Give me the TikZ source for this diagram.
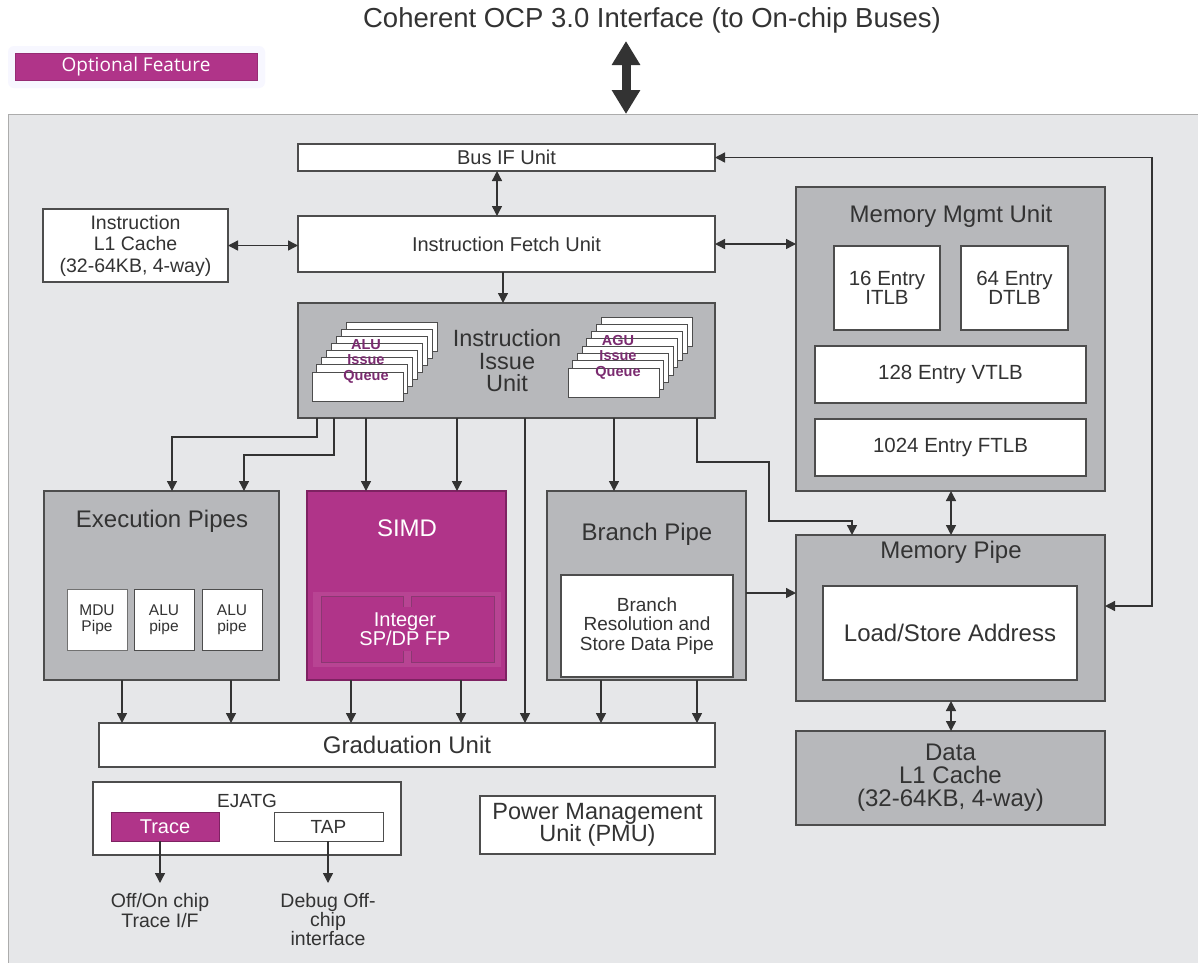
\documentclass[tikz,border=0pt]{standalone}
\usepackage{fontspec}
\setmainfont{Liberation Sans}
\newfontfamily\optfont{Open Sans}
\usetikzlibrary{arrows.meta}
\definecolor{panelbg}{HTML}{E6E7E9}
\definecolor{boxgray}{HTML}{B7B8BB}
\definecolor{mag}{HTML}{B03489}
\definecolor{maglight}{HTML}{B84493}
\definecolor{magedge}{HTML}{7E2262}
\definecolor{ink}{HTML}{333333}
\definecolor{edge}{HTML}{4D4D4D}
\definecolor{qpurple}{HTML}{7B2B70}
\newcommand\fsz[2]{\fontsize{#1pt}{#2pt}\selectfont}
\tikzset{
  kt/.tip={Triangle[width=10pt,length=10pt]},
  bigkt/.tip={Triangle[width=27pt,length=24pt]},
  blk/.style={draw=edge, line width=1.1pt, inner sep=0pt, outer sep=0pt, anchor=north west, align=center, text=ink},
  wbox/.style={blk, fill=white},
  gbox/.style={blk, fill=boxgray},
  mbox/.style={blk, fill=mag, draw=magedge, text=white},
  lbl/.style={inner sep=0pt, outer sep=0pt, align=center, text=ink},
  arr/.style={draw=ink, line width=1.4pt, -kt},
  darr/.style={draw=ink, line width=1.4pt, kt-kt},
  card/.style={fill=white, draw=edge, line width=0.8pt},
  qtext/.style={lbl, text=qpurple, font=\bfseries\fsz{14.5}{15.5}},
}
\begin{document}
\begin{tikzpicture}[x=1pt,y=-1pt]
\useasboundingbox (0,0) rectangle (1198,962);
\fill[white] (0,0) rectangle (1198,962);
% panel
\node[fill=panelbg, draw=gray!65, line width=1pt, anchor=north west, minimum width=1210pt, minimum height=870pt, inner sep=0pt, outer sep=0pt] (panel) at (8,114) {};
% title and legend
\node[lbl, font=\fsz{27.5}{31}] (title) at (652,20) {Coherent OCP 3.0 Interface (to On-chip Buses)};
\fill[blue!3!white, rounded corners=6pt] (8,46) rectangle (265,88);
\node[blk, fill=mag, draw=mag!85!black, line width=0.6pt, text=white, font=\optfont\fsz{19}{22}, minimum width=242pt, minimum height=27pt] (optf) at (15,53) {Optional Feature};
\coordinate (ocptop) at (626,41);
\draw[line width=9pt, draw=ink, bigkt-bigkt] (ocptop) -- (ocptop |- panel.north);

% top units
\node[wbox, minimum width=417pt, minimum height=27pt, font=\fsz{20}{22}] (busif) at (298,144) {Bus IF Unit};
\node[wbox, minimum width=185pt, minimum height=73pt, font=\fsz{19.5}{21.5}] (l1i) at (43,209) {Instruction\\L1 Cache\\(32-64KB, 4-way)};
\node[wbox, minimum width=417pt, minimum height=56pt, font=\fsz{20}{22}] (fetch) at (298,216) {Instruction Fetch Unit};

% MMU
\node[gbox, minimum width=309pt, minimum height=304pt] (mmu) at (796,187) {};
\node[lbl, font=\fsz{24}{28}] (mmut) at (951,216) {Memory Mgmt Unit};
\node[wbox, minimum width=106pt, minimum height=84pt, font=\fsz{20.5}{19.5}] (itlb) at (834,246) {16 Entry\\ITLB};
\node[wbox, minimum width=107pt, minimum height=84pt, font=\fsz{20.5}{19.5}] (dtlb) at (961,246) {64 Entry\\DTLB};
\node[wbox, minimum width=271pt, minimum height=57pt, font=\fsz{20.5}{22}] (vtlb) at (815,346) {128 Entry VTLB};
\node[wbox, minimum width=271pt, minimum height=57pt, font=\fsz{20.5}{22}] (ftlb) at (815,419) {1024 Entry FTLB};

% Issue unit
\node[gbox, minimum width=417pt, minimum height=115pt] (issue) at (298,303) {};
\node[lbl, font=\fsz{23.5}{22.5}] (issuet) at (507,361) {Instruction\\Issue\\Unit};
\foreach \i in {7,6,...,0}{
  \draw[card] (312+4.86*\i,372-7.14*\i) rectangle ++(91,29);
  \draw[card] (568+4.71*\i,368-7.29*\i) rectangle ++(91,29);
}
\node[qtext] (aluq) at (366,361) {ALU\\Issue\\Queue};
\node[qtext] (aguq) at (618,357) {AGU\\Issue\\Queue};

% Execution pipes
\node[gbox, minimum width=235pt, minimum height=189pt] (exec) at (44,491) {};
\node[lbl, font=\fsz{24}{28}] (exect) at (162,521) {Execution Pipes};
\node[wbox, draw=edge!80, line width=0.8pt, minimum width=60pt, minimum height=61pt, font=\fsz{15.5}{16}] (mdu) at (67,589) {MDU\\Pipe};
\node[wbox, line width=0.8pt, minimum width=60pt, minimum height=61pt, font=\fsz{15.5}{16}] (alua) at (134,589) {ALU\\pipe};
\node[wbox, line width=0.8pt, minimum width=60pt, minimum height=61pt, font=\fsz{15.5}{16}] (alub) at (202,589) {ALU\\pipe};

% SIMD
\node[mbox, minimum width=199pt, minimum height=189pt] (simd) at (307,491) {};
\node[lbl, text=white, font=\fsz{24}{28}] (simdt) at (407,528) {SIMD};
\fill[maglight] (313,592) rectangle (501,667);
\draw[fill=mag, draw=magedge!90, line width=0.8pt] (321,596) rectangle (403,662);
\draw[fill=mag, draw=magedge!90, line width=0.8pt] (411,596) rectangle (494,662);
\fill[mag] (402,607) rectangle (412,651);
\node[lbl, text=white, font=\fsz{20}{19.5}] (simdi) at (405,629) {Integer\\SP/DP FP};

% Branch pipe
\node[gbox, minimum width=199pt, minimum height=189pt] (branch) at (547,491) {};
\node[lbl, font=\fsz{24}{28}] (brancht) at (647,534) {Branch Pipe};
\node[wbox, minimum width=172pt, minimum height=102pt, font=\fsz{19}{19.5}] (brres) at (561,575) {Branch\\Resolution and\\Store Data Pipe};

% Memory pipe
\node[gbox, minimum width=309pt, minimum height=166pt] (mempipe) at (796,535) {};
\node[lbl, font=\fsz{24}{28}] (mempipet) at (951,552) {Memory Pipe};
\node[wbox, minimum width=254pt, minimum height=94pt, font=\fsz{24}{28}] (lsa) at (823,586) {Load/Store Address};
\node[gbox, minimum width=309pt, minimum height=94pt, font=\fsz{24}{23}] (l1d) at (796,731) {Data\\L1 Cache\\(32-64KB, 4-way)};

% Graduation, EJTAG, PMU
\node[wbox, minimum width=616pt, minimum height=44pt, font=\fsz{24}{28}] (grad) at (99,723) {Graduation Unit};
\node[wbox, minimum width=308pt, minimum height=73pt] (ejtag) at (93,782) {};
\node[lbl, font=\fsz{19}{22}] (ejtagt) at (247,801) {EJATG};
\node[mbox, line width=1pt, minimum width=108pt, minimum height=29pt, font=\fsz{20}{22}] (trace) at (111,812) {Trace};
\node[wbox, line width=1pt, minimum width=109pt, minimum height=29pt, font=\fsz{19}{22}] (tap) at (274,812) {TAP};
\node[wbox, minimum width=235pt, minimum height=58pt, font=\fsz{23.5}{22.5}] (pmu) at (480,796) {Power Management\\Unit (PMU)};
\node[lbl, anchor=north, font=\fsz{19.5}{20}] (tracel) at (160,893) {Off/On chip\\Trace I/F};
\node[lbl, anchor=north, font=\fsz{19.5}{19}] (tapl) at (328,893) {Debug Off-\\chip\\interface};

% connectors
\draw[darr] ([xshift=199pt]busif.south west) -- ([xshift=199pt]fetch.north west);
\draw[darr] (l1i.east) -- (l1i.east -| fetch.west);
\draw[darr] (fetch.east) -- (fetch.east -| mmu.west);
\coordinate (loopx) at (1152,0);
\draw[darr] (busif.east) -- (busif.east -| loopx) |- ([yshift=12pt]mempipe.east);
\draw[arr] ([xshift=205pt]fetch.south west) -- ([xshift=205pt]issue.north west);
\draw[arr] ([xshift=19pt]issue.south west) -- ++(0,19) -| ([xshift=128pt]exec.north west);
\draw[arr] ([xshift=36pt]issue.south west) -- ++(0,37) -| ([xshift=200pt]exec.north west);
\draw[arr] ([xshift=68pt]issue.south west) -- ([xshift=59pt]simd.north west);
\draw[arr] ([xshift=159pt]issue.south west) -- ([xshift=150pt]simd.north west);
\draw[arr] ([xshift=227pt]issue.south west) -- ([xshift=426pt]grad.north west);
\draw[arr] ([xshift=316pt]issue.south west) -- ([xshift=67pt]branch.north west);
\draw[arr] ([xshift=399pt]issue.south west) -- ++(0,44) -- ++(72,0) -- ++(0,59) -| ([xshift=56pt]mempipe.north west);
\coordinate (bm) at ([yshift=-102pt]branch.north east);
\draw[arr] (bm) -- (bm -| mempipe.west);
\draw[darr] ([xshift=155pt]mmu.south west) -- ([xshift=155pt]mempipe.north west);
\draw[darr] ([xshift=155pt]mempipe.south west) -- ([xshift=155pt]l1d.north west);
\draw[arr] ([xshift=78pt]exec.south west) -- ([xshift=23pt]grad.north west);
\draw[arr] ([xshift=187pt]exec.south west) -- ([xshift=132pt]grad.north west);
\draw[arr] ([xshift=44pt]simd.south west) -- ([xshift=252pt]grad.north west);
\draw[arr] ([xshift=154pt]simd.south west) -- ([xshift=362pt]grad.north west);
\draw[arr] ([xshift=54pt]branch.south west) -- ([xshift=502pt]grad.north west);
\draw[arr] ([xshift=150pt]branch.south west) -- ([xshift=598pt]grad.north west);
\draw[arr] (trace.south -| tracel.north) -- ([yshift=10pt]tracel.north);
\draw[arr] (tap.south -| tapl.north) -- ([yshift=10pt]tapl.north);
\end{tikzpicture}
\end{document}
